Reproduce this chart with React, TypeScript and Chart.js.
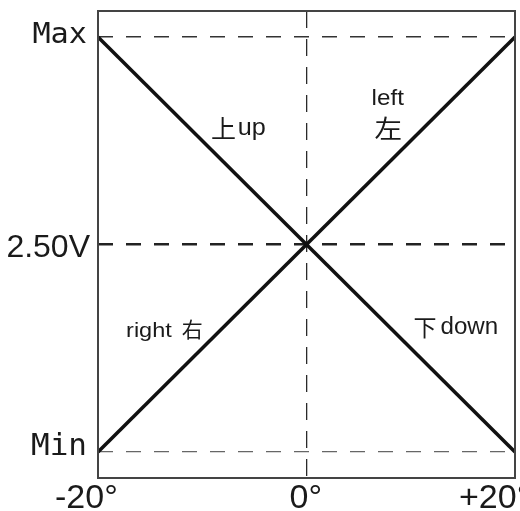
import React, { useEffect, useRef } from "react";
import { Chart, registerables } from "chart.js";

Chart.register(...registerables);

// ---- data ----
const angles = [-20, 20];
const upDownSeries = [5, 0]; // 上 up ... 下 down
const rightLeftSeries = [0, 5]; // right 右 ... left 左
const xTicks = [-20, 0, 20];
const xTickLabels = ["-20°", "0°", "+20°"];
const yTicks = [0, 2.5, 5];
const yTickLabels = ["Min", "2.50V", "Max"];

// annotation texts, placed in data space
const noteTexts = ["上", "up", "left", "左", "right", "右", "下", "down"];
const noteX = [-7.96, -6.6, 7.79, 7.85, -17.31, -10.95, 11.37, 12.85];
const noteY = [3.78, 3.82, 4.18, 3.78, 1.39, 1.38, 1.4, 1.42];

// ---- styles ----
const LATIN = '"Liberation Sans", Arial, sans-serif';
const CJK = '"Noto Sans CJK SC", sans-serif';
const MONO = '"DejaVu Sans Mono", monospace';
const TEXT_COLOR = "#1a1a1a";

const noteStyle = [
  { font: `25px ${CJK}`, align: "center", sx: 1 },
  { font: `24px ${LATIN}`, align: "left", sx: 1.05 },
  { font: `22px ${LATIN}`, align: "center", sx: 1.1 },
  { font: `25px ${CJK}`, align: "center", sx: 1.1 },
  { font: `21px ${LATIN}`, align: "left", sx: 1.12 },
  { font: `21px ${CJK}`, align: "center", sx: 1 },
  { font: `23px ${CJK}`, align: "center", sx: 1 },
  { font: `23px ${LATIN}`, align: "left", sx: 1.05 },
];

const yLabelStyle = [
  { font: `31px ${MONO}`, right: 87, dy: 3, sx: 1 },
  { font: `32px ${LATIN}`, right: 90, dy: 12, sx: 1 },
  { font: `28px ${MONO}`, right: 87, dy: 6.5, sx: 1.08 },
];

const xLabelStyle = [
  { font: `34px ${LATIN}`, dx: -43 },
  { font: `34px ${LATIN}`, dx: -17 },
  { font: `34px ${LATIN}`, dx: -56 },
];
const X_LABEL_BASELINE = 508;

const yGridColor = ["#666", "#222", "#333"];
const yGridWidth = [1.2, 2.4, 1.6];

function drawText(
  ctx: CanvasRenderingContext2D,
  text: string,
  x: number,
  y: number,
  font: string,
  align: CanvasTextAlign,
  sx: number
) {
  ctx.save();
  ctx.translate(x, y);
  ctx.scale(sx, 1);
  ctx.font = font;
  ctx.textAlign = align;
  ctx.textBaseline = "alphabetic";
  ctx.fillStyle = TEXT_COLOR;
  ctx.fillText(text, 0, 0);
  ctx.restore();
}

const decorPlugin = {
  id: "decor",
  afterDatasetsDraw(chart: any) {
    const { ctx, chartArea: a, scales } = chart;
    const xs = scales.x;
    const ys = scales.y;
    ctx.save();
    // frame
    ctx.strokeStyle = "#444";
    ctx.lineWidth = 2;
    ctx.setLineDash([]);
    ctx.strokeRect(a.left, a.top, a.right - a.left, a.bottom - a.top);

    // y tick labels
    yTicks.forEach((v, i) => {
      const st = yLabelStyle[i];
      drawText(ctx, yTickLabels[i], st.right, ys.getPixelForValue(v) + st.dy, st.font, "right", st.sx);
    });
    // x tick labels
    xTicks.forEach((v, i) => {
      const st = xLabelStyle[i];
      drawText(ctx, xTickLabels[i], xs.getPixelForValue(v) + st.dx, X_LABEL_BASELINE, st.font, "left", 1);
    });
    // annotations
    noteTexts.forEach((t, i) => {
      const st = noteStyle[i];
      drawText(
        ctx,
        t,
        xs.getPixelForValue(noteX[i]),
        ys.getPixelForValue(noteY[i]),
        st.font,
        st.align as CanvasTextAlign,
        st.sx
      );
    });
    ctx.restore();
  },
};

export default function App() {
  const ref = useRef<HTMLCanvasElement | null>(null);

  useEffect(() => {
    if (!ref.current) return;
    const chart = new Chart(ref.current, {
      type: "line",
      data: {
        datasets: [
          {
            label: "上 up / 下 down",
            data: angles.map((a, i) => ({ x: a, y: upDownSeries[i] })),
            borderColor: "#111",
            borderWidth: 3.5,
            pointRadius: 0,
            fill: false,
            tension: 0,
          },
          {
            label: "right 右 / left 左",
            data: angles.map((a, i) => ({ x: a, y: rightLeftSeries[i] })),
            borderColor: "#111",
            borderWidth: 3.5,
            pointRadius: 0,
            fill: false,
            tension: 0,
          },
        ],
      },
      options: {
        animation: false,
        responsive: false,
        layout: { padding: { top: 11, right: 5, left: 0, bottom: 0 } },
        plugins: {
          legend: { display: false },
          tooltip: { enabled: false },
        },
        scales: {
          x: {
            type: "linear",
            min: -20,
            max: 20,
            afterBuildTicks: (s: any) => {
              s.ticks = xTicks.map((v) => ({ value: v }));
            },
            afterFit: (s: any) => {
              s.height = 33;
            },
            ticks: { display: false },
            grid: {
              drawTicks: false,
              color: (c: any) => (c.tick && c.tick.value === 0 ? "#2a2a2a" : "rgba(0,0,0,0)"),
              lineWidth: 1.3,
            },
            border: { display: false, dash: [17, 11] },
          },
          y: {
            type: "linear",
            min: -0.3125,
            max: 5.3125,
            afterBuildTicks: (s: any) => {
              s.ticks = yTicks.map((v) => ({ value: v }));
            },
            afterFit: (s: any) => {
              s.width = 98;
            },
            ticks: { display: false },
            grid: {
              drawTicks: false,
              color: (c: any) => {
                const i = c.tick ? yTicks.indexOf(c.tick.value) : -1;
                return i >= 0 ? yGridColor[i] : "rgba(0,0,0,0)";
              },
              lineWidth: (c: any) => {
                const i = c.tick ? yTicks.indexOf(c.tick.value) : -1;
                return i >= 0 ? yGridWidth[i] : 0;
              },
            },
            border: { display: false, dash: [15, 13] },
          },
        },
      } as any,
      plugins: [decorPlugin],
    });
    return () => chart.destroy();
  }, []);

  return (
    <div style={{ position: "absolute", left: 0, top: 0, width: 520, height: 511, background: "#fff" }}>
      <canvas ref={ref} width={520} height={511} style={{ display: "block" }} />
    </div>
  );
}
